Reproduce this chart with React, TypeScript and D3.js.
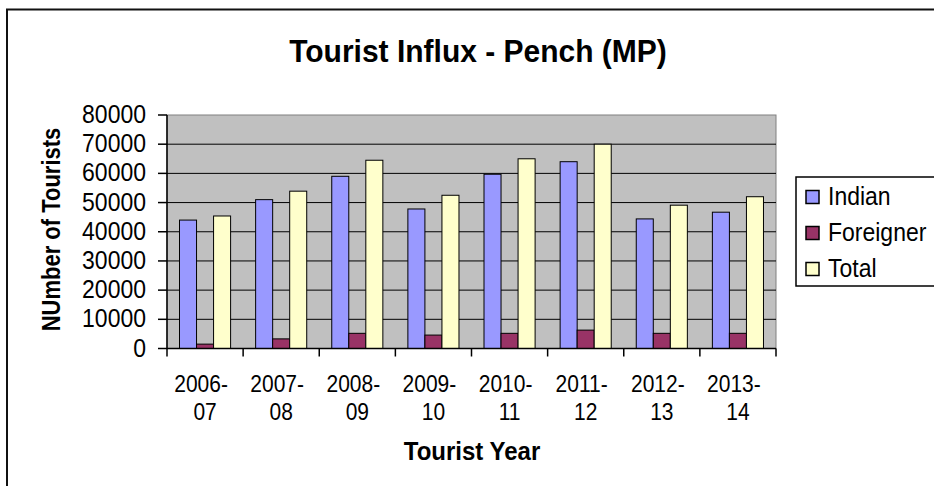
import * as d3 from "d3";

const years = ["2006-07", "2007-08", "2008-09", "2009-10", "2010-11", "2011-12", "2012-13", "2013-14"];
const indian = [44000, 51000, 59000, 47800, 59700, 64000, 44400, 46700];
const foreigner = [1500, 3300, 5200, 4600, 5200, 6300, 5200, 5200];
const total = [45400, 53900, 64500, 52500, 65000, 70000, 49100, 52000];
const seriesNames = ["Indian", "Foreigner", "Total"];
const yTicks = [0, 10000, 20000, 30000, 40000, 50000, 60000, 70000, 80000];

const colors = ["#9999FF", "#993366", "#FFFFCC"];
const font = "Arial, 'Liberation Sans', sans-serif";

// text stretched a little in height, like the reference rendering
const T = ({ x, y, sy = 1.1, children, ...rest }: any) => (
  <text transform={`translate(${x},${y}) scale(1,${sy})`} {...rest}>
    {children}
  </text>
);

export default function App() {
  const width = 934,
    height = 486;
  const plot = { left: 167, right: 776, top: 115, bottom: 348.5 };

  const x = d3.scaleBand().domain(years).range([plot.left, plot.right]);
  const inner = d3.scaleBand().domain(seriesNames).range([12.5, 63.6]);
  const y = d3.scaleLinear().domain([0, 80000]).range([plot.bottom, plot.top]);

  const allSeries = [indian, foreigner, total];

  return (
    <svg
      width={width}
      height={height}
      style={{ position: "absolute", left: 0, top: 0, background: "#fff" }}
      fontFamily={font}
    >
      {/* outer chart border */}
      <rect x={7} y={9.5} width={1000} height={600} fill="#fff" stroke="#111" strokeWidth={2} />

      <T x={478} y={62} sy={1.05} textAnchor="middle" fontSize={30} fontWeight="bold">
        Tourist Influx - Pench (MP)
      </T>

      {/* plot area */}
      <rect
        x={plot.left}
        y={plot.top}
        width={plot.right - plot.left}
        height={plot.bottom - plot.top}
        fill="#C0C0C0"
        stroke="#808080"
        strokeWidth={1}
      />
      {yTicks.slice(1, -1).map((t) => (
        <line key={t} x1={plot.left} x2={plot.right} y1={y(t)} y2={y(t)} stroke="#000" strokeWidth={1} />
      ))}

      {/* bars */}
      {years.map((yr, i) => (
        <g key={yr} transform={`translate(${x(yr)},0)`}>
          {allSeries.map((s, j) => (
            <rect
              key={j}
              x={inner(seriesNames[j])}
              y={y(s[i])}
              width={inner.bandwidth()}
              height={y(0) - y(s[i])}
              fill={colors[j]}
              stroke="#000"
              strokeWidth={1}
            />
          ))}
        </g>
      ))}

      {/* y axis */}
      <line x1={plot.left} x2={plot.left} y1={plot.top} y2={plot.bottom} stroke="#000" strokeWidth={1.5} />
      {yTicks.map((t) => (
        <g key={t}>
          <line x1={plot.left - 9} x2={plot.left} y1={y(t)} y2={y(t)} stroke="#000" strokeWidth={1.5} />
          <T x={146} y={y(t) + 8} textAnchor="end" fontSize={23}>
            {t}
          </T>
        </g>
      ))}

      {/* x axis */}
      <line x1={plot.left} x2={plot.right} y1={plot.bottom} y2={plot.bottom} stroke="#000" strokeWidth={1.5} />
      {[...years.map((d) => x(d) as number), plot.right].map((px, i) => (
        <line key={i} x1={px} x2={px} y1={plot.bottom} y2={plot.bottom + 8} stroke="#000" strokeWidth={1.5} />
      ))}
      {years.map((yr) => {
        const cx = (x(yr) as number) + x.bandwidth() / 2;
        const [a, b] = yr.split("-");
        return (
          <g key={yr}>
            <T x={cx - 4} y={392} sy={1.12} textAnchor="middle" fontSize={21}>
              {a + "-"}
            </T>
            <T x={cx} y={420} sy={1.12} textAnchor="middle" fontSize={21}>
              {b}
            </T>
          </g>
        );
      })}

      <T x={472} y={460} textAnchor="middle" fontSize={24} fontWeight="bold">
        Tourist Year
      </T>
      <text
        transform="translate(60,229.5) rotate(-90) scale(1,1.15)"
        textAnchor="middle"
        fontSize={22}
        fontWeight="bold"
      >
        NUmber of Tourists
      </text>

      {/* legend */}
      <rect x={796} y={177} width={200} height={109} fill="#fff" stroke="#000" strokeWidth={1.5} />
      {seriesNames.map((n, j) => (
        <g key={n} transform={`translate(0,${197 + j * 36})`}>
          <rect x={806} y={-6.5} width={13} height={13} fill={colors[j]} stroke="#000" strokeWidth={1.5} />
          <T x={828} y={8} fontSize={23}>
            {n}
          </T>
        </g>
      ))}
    </svg>
  );
}
